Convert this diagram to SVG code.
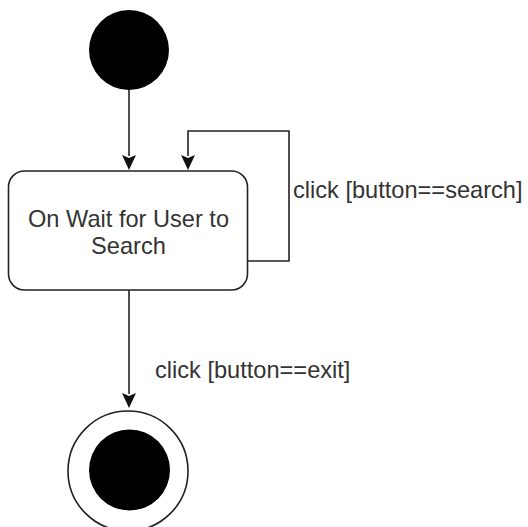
<svg xmlns="http://www.w3.org/2000/svg" width="528" height="527" viewBox="0 0 528 527">
<defs>
<style>
.ln{fill:none;stroke:#222;stroke-width:1.6}
.ah{fill:#111}
.tx{font-family:"Liberation Sans",Arial,sans-serif;font-size:23.6px;fill:#333}
</style>
</defs>
<rect width="528" height="527" fill="#fff"/>
<g id="connectors">
<path class="ln" d="M129,90 V156"/>
<path class="ah" d="M122,155 L129,158 L136,155 L129,170 Z"/>
<path class="ln" d="M248,261 H289 V131 H188 V156"/>
<path class="ah" d="M181,155 L188,158 L195,155 L188,170 Z"/>
<path class="ln" d="M129,290 V394"/>
<path class="ah" d="M122,393 L129,396 L136,393 L129,408 Z"/>
<text class="tx" x="293" y="198">click [button==search]</text>
<text class="tx" x="155" y="378">click [button==exit]</text>
</g>
<g id="initial">
<circle cx="129" cy="50" r="40" fill="#000"/>
</g>
<g id="wait">
<rect class="ln" x="8.5" y="171" width="239" height="119" rx="16" fill="#fff"/>
<text class="tx" x="128.5" y="227" text-anchor="middle">On Wait for User to</text>
<text class="tx" x="128.5" y="254" text-anchor="middle">Search</text>
</g>
<g id="final">
<circle cx="128" cy="471" r="60" fill="#fff" stroke="#222" stroke-width="1.6"/>
<circle cx="129.5" cy="470" r="40.5" fill="#000"/>
</g>
</svg>
